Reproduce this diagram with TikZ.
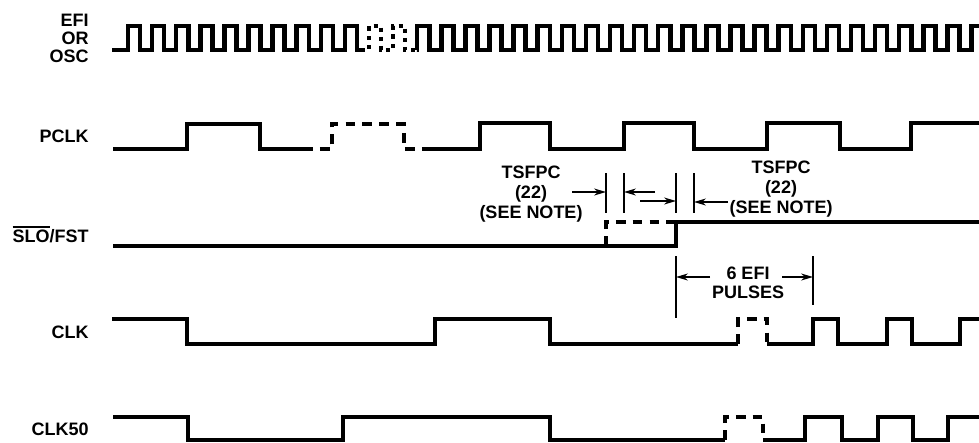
\documentclass[tikz,border=0pt]{standalone}
\usepackage{fontspec}
\setmainfont{Liberation Sans}
\usetikzlibrary{arrows.meta}
% active-low bar over a signal name
\newcommand{\lowbar}[1]{\setbox0\hbox{#1}%
  \rlap{\rule[\dimexpr\ht0+1.3pt\relax]{\wd0}{1.3pt}}\box0}
\tikzset{
  wave/.style={line width=3.2pt},
  dotwave/.style={line width=3.2pt,dash pattern=on 7pt off 5pt},
  efidot/.style={line width=3.2pt,dash pattern=on 3pt off 3.5pt},
  tick/.style={line width=0.9pt},
  dimarrow/.style={line width=0.9pt,-{Stealth[length=8.5pt,width=5pt]}},
  sig/.style={anchor=base east,inner sep=0pt,font=\bfseries\fontsize{12.8}{12.7}\selectfont},
  note/.style={align=center,inner sep=0pt,font=\bfseries\fontsize{12.8}{14.2}\selectfont},
}

\begin{document}
\begin{tikzpicture}[x=0.025cm,y=-0.025cm]
\useasboundingbox (0,0) rectangle (979,442);

% signal names
\node[sig,anchor=east,align=right] (efi) at (89,38.5) {EFI\\OR\\OSC};
\node[sig] (pclk) at (89,142) {PCLK};
\node[sig] (slo) at (89,242) {\lowbar{SLO}/FST};
\node[sig] (clk) at (89,338) {CLK};
\node[sig] (clkf) at (89,435) {CLK50};

% EFI / OSC
\draw[wave] (112,50) foreach \k in {0,...,9} {
  -- ({128+24.1*\k},50) -- ({128+24.1*\k},26)
  -- ({140.05+24.1*\k},26) -- ({140.05+24.1*\k},50) } -- (361,50);
\draw[efidot] (361,50) foreach \k in {10,11} {
  -- ({128+24.1*\k},50) -- ({128+24.1*\k},26)
  -- ({140.05+24.1*\k},26) -- ({140.05+24.1*\k},50) } -- (417.2,50);
\draw[wave] (417.2,50) foreach \k in {12,...,34} {
  -- ({128+24.1*\k},50) -- ({128+24.1*\k},26)
  -- ({140.05+24.1*\k},26) -- ({140.05+24.1*\k},50) }
  -- (971.5,50) -- (971.5,26) -- (979,26);

% PCLK
\draw[wave] (113,149) -- (187,149) -- (187,124) -- (260,124) -- (260,149) -- (303,149);
\draw[dotwave] (303,149) -- (332,149) -- (332,124) -- (404,124) -- (404,149) -- (427,149);
\draw[wave] (427,149) -- (480,149) -- (480,123) -- (550,123) -- (550,149)
  -- (624,149) -- (624,123) -- (694,123) -- (694,149) -- (767,149) -- (767,123)
  -- (840,123) -- (840,149) -- (911,149) -- (911,123) -- (979,123);

% SLO/FST
\draw[wave] (113,246) -- (676,246) -- (676,222) -- (979,222);
\draw[dotwave] (606,246) -- (606,222) -- (676,222);

% CLK
\draw[wave] (112,319) -- (187,319) -- (187,344) -- (435,344) -- (435,319)
  -- (550,319) -- (550,344) -- (738,344);
\draw[dotwave] (738,344) -- (738,319) -- (767,319) -- (767,344);
\draw[wave] (767,344) -- (813,344) -- (813,319) -- (838,319) -- (838,344)
  -- (887,344) -- (887,319) -- (912,319) -- (912,344) -- (960,344) -- (960,319) -- (979,319);

% CLK50
\draw[wave] (113,417) -- (188,417) -- (188,440) -- (343,440) -- (343,417)
  -- (550,417) -- (550,440) -- (725,440);
\draw[dotwave] (725,440) -- (725,417) -- (763,417) -- (763,440) -- (773,440);
\draw[wave] (773,440) -- (805,440) -- (805,417) -- (842,417) -- (842,440)
  -- (878,440) -- (878,417) -- (913,417) -- (913,440) -- (948,440) -- (948,417) -- (979,417);

% TSFPC markers
\coordinate (mk1) at (606,173);
\coordinate (mk2) at (624,173);
\coordinate (mk3) at (676,173);
\coordinate (mk4) at (694,173);
\foreach \m in {mk1,mk2,mk3,mk4}
  \draw[tick] (\m) -- ++(0,40);
\coordinate (ar1) at (572,192);
\coordinate (ar2) at (655,192);
\coordinate (ar3) at (640,201);
\coordinate (ar4) at (728,202);
\draw[dimarrow] (ar1) -- (ar1 -| mk1);
\draw[dimarrow] (ar2) -- (ar2 -| mk2);
\draw[dimarrow] (ar3) -- (ar3 -| mk3);
\draw[dimarrow] (ar4) -- (ar4 -| mk4);
\node[note] (tsf1) at (531,194) {TSFPC\\(22)\\(SEE NOTE)};
\node[note] (tsf2) at (781,189) {TSFPC\\(22)\\(SEE NOTE)};

% 6 EFI pulses
\coordinate (pl) at (676,256);
\coordinate (pr) at (813,256);
\draw[tick] (pl) -- ++(0,62);
\draw[tick] (pr) -- ++(0,49);
\coordinate (ar5) at (710,277);
\coordinate (ar6) at (782,277);
\draw[dimarrow] (ar5) -- (ar5 -| pl);
\draw[dimarrow] (ar6) -- (ar6 -| pr);
\node[note,font=\bfseries\fontsize{12.8}{13.5}\selectfont] (six) at (748,282.5) {6 EFI\\PULSES};
\end{tikzpicture}
\end{document}
